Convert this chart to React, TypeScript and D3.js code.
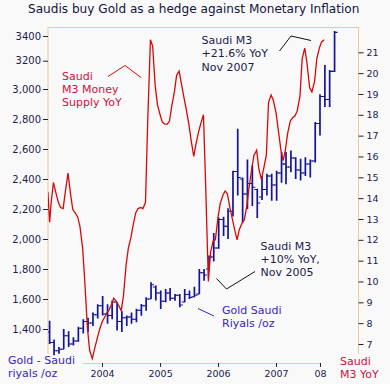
import React, { useEffect, useRef } from 'react';
import * as d3 from 'd3';

// Gold in Saudi riyals per oz, monthly bars Feb 2003 .. Jan 2008
const goldOpen = [
    1380, 1310, 1255, 1265, 1355, 1300, 1320, 1405, 1450, 1440, 1495,
    1555, 1500, 1490, 1580, 1450, 1475, 1480, 1465, 1525, 1555, 1600, 1680,
    1640, 1585, 1640, 1605, 1625, 1580, 1630, 1615, 1633, 1775, 1800, 1880,
    1940, 2130, 2085, 2185, 2450, 2400, 2300, 2370, 2330, 2280, 2330, 2420,
    2360, 2440, 2500, 2480, 2540, 2460, 2440, 2500, 2520, 2770, 2950, 2930,
    3125,
];
const goldHigh = [
    1455, 1330, 1280, 1400, 1385, 1345, 1415, 1465, 1475, 1510, 1565,
    1620, 1565, 1590, 1580, 1520, 1490, 1510, 1535, 1567, 1611, 1711, 1690,
    1656, 1667, 1673, 1633, 1633, 1667, 1656, 1682, 1800, 1800, 1890, 2040,
    2144, 2148, 2205, 2455, 2735, 2410, 2530, 2490, 2335, 2420, 2435, 2435,
    2455, 2580, 2580, 2590, 2545, 2535, 2545, 2530, 2780, 2965, 3170, 3135,
    3440,
];
const goldLow = [
    1300, 1225, 1235, 1265, 1280, 1290, 1315, 1370, 1380, 1420, 1470,
    1490, 1435, 1465, 1390, 1380, 1420, 1435, 1445, 1489, 1522, 1600, 1590,
    1533, 1578, 1589, 1589, 1545, 1578, 1600, 1611, 1633, 1722, 1790, 1850,
    1935, 2020, 2000, 2150, 2290, 2110, 2200, 2220, 2140, 2260, 2290, 2255,
    2255, 2375, 2365, 2445, 2400, 2390, 2420, 2410, 2510, 2690, 2880, 2880,
    3120,
];
const goldClose = [
    1310, 1255, 1265, 1355, 1300, 1320, 1405, 1450, 1440, 1495, 1555,
    1500, 1490, 1580, 1450, 1475, 1480, 1465, 1525, 1555, 1600, 1695, 1640,
    1585, 1640, 1605, 1625, 1560, 1630, 1610, 1625, 1775, 1760, 1880, 1940,
    2130, 2085, 2185, 2450, 2410, 2300, 2370, 2345, 2240, 2330, 2420, 2360,
    2440, 2500, 2480, 2540, 2460, 2440, 2500, 2520, 2770, 2950, 2930, 3125,
    3430,
];

// Saudi M3 money supply, % YoY
const m3Dates = [
    '2003-01-25', '2003-02-05', '2003-02-15', '2003-03-01', '2003-03-15', '2003-04-01', '2003-04-15',
    '2003-05-01', '2003-05-15', '2003-06-01', '2003-06-15', '2003-07-01', '2003-07-15', '2003-08-01',
    '2003-08-15', '2003-09-01', '2003-09-15', '2003-10-01', '2003-10-15', '2003-11-01', '2003-11-15',
    '2003-12-01', '2003-12-15', '2004-01-01', '2004-01-15', '2004-02-01', '2004-02-15', '2004-03-01',
    '2004-03-15', '2004-04-01', '2004-04-15', '2004-05-01', '2004-05-15', '2004-06-01', '2004-06-15',
    '2004-07-01', '2004-07-15', '2004-08-01', '2004-08-15', '2004-09-01', '2004-09-15', '2004-10-01',
    '2004-10-15', '2004-11-01', '2004-11-15', '2004-12-01', '2004-12-15', '2005-01-01', '2005-01-15',
    '2005-02-01', '2005-02-15', '2005-03-01', '2005-03-15', '2005-04-01', '2005-04-15', '2005-05-01',
    '2005-05-15', '2005-06-01', '2005-06-15', '2005-07-01', '2005-07-15', '2005-08-01', '2005-08-15',
    '2005-09-01', '2005-09-15', '2005-10-01', '2005-10-15', '2005-11-01', '2005-11-15', '2005-12-01',
    '2005-12-15', '2006-01-01', '2006-01-15', '2006-02-01', '2006-02-15', '2006-03-01', '2006-03-15',
    '2006-04-01', '2006-04-15', '2006-05-01', '2006-05-15', '2006-06-01', '2006-06-15', '2006-07-01',
    '2006-07-15', '2006-08-01', '2006-08-15', '2006-09-01', '2006-09-15', '2006-10-01', '2006-10-15',
    '2006-11-01', '2006-11-15', '2006-12-01', '2006-12-15', '2007-01-01', '2007-01-15', '2007-02-01',
    '2007-02-15', '2007-03-01', '2007-03-15', '2007-04-01', '2007-04-15', '2007-05-01', '2007-05-15',
    '2007-06-01', '2007-06-15', '2007-07-01', '2007-07-15', '2007-08-01', '2007-08-15', '2007-09-01',
    '2007-09-15', '2007-10-01', '2007-10-15', '2007-11-01',
];
const m3Values = [
    14.3, 12.85, 13.8, 14.75, 14.3, 13.8, 13.55,
    13.5, 14.3, 15.2, 14.3, 13.45, 13.3, 13.1,
    12.65, 11.6, 9.95, 7.8, 6.7, 6.3, 6.75,
    7.25, 7.65, 8.05, 8.25, 8.5, 8.65, 8.9,
    9.2, 9.05, 8.85, 8.6, 9.3, 10.8, 11.6,
    12.1, 12.7, 13.3, 13.5, 13.55, 13.5, 13.8,
    17.7, 21.6, 21.3, 19.4, 18.5, 18.0, 17.65,
    17.55, 17.55, 17.7, 18.4, 19.1, 19.9, 20.1,
    19.5, 18.8, 18.25, 17.55, 16.8, 16.0, 16.6,
    17.2, 17.6, 18.0, 14.6, 10.0, 11.4, 11.95,
    12.0, 13.1, 13.75, 14.15, 14.35, 14.2, 13.6,
    13.0, 12.5, 12.0, 12.5, 12.8, 12.95, 13.6,
    14.5, 15.4, 16.05, 16.3, 15.4, 14.9, 15.4,
    16.05, 18.6, 18.95, 18.7, 18.1, 17.3, 16.3,
    15.8, 16.3, 17.1, 17.7, 17.85, 17.95, 18.2,
    18.9, 20.7, 21.2, 20.5, 19.3, 19.1, 19.6,
    20.7, 21.2, 21.5, 21.6,
];

const goldTicks = [1400, 1600, 1800, 2000, 2200, 2400, 2600, 2800, 3000, 3200, 3400];
const goldTickLabels = ['1,400', '1,600', '1,800', '2,000', '2,200', '2,400', '2,600', '2,800', '3,000', '3200', '3400'];
const m3Ticks = [7, 8, 9, 10, 11, 12, 13, 14, 15, 16, 17, 18, 19, 20, 21];
const yearTicks = ['2004-01-01', '2005-01-01', '2006-01-01', '2007-01-01', '2007-10-05'];
const yearLabels = ['2004', '2005', '2006', '2007', '08'];

const W = 390;
const H = 384;
const font = '"DejaVu Sans", Verdana, sans-serif';
const frame = '#f5c796';
const ink = '#1c1c4c';
const red = '#d80808';
const blue = '#14149a';
const violet = '#3a24c8';
const crimson = '#d0103c';

const App: React.FC = () => {
    const svgRef = useRef<SVGSVGElement | null>(null);

    useEffect(() => {
        if (!svgRef.current) return;
        document.body.style.margin = '0';
        const svg = d3.select(svgRef.current);
        svg.selectAll('*').remove();

        const parse = d3.timeParse('%Y-%m-%d');
        const left = 48, right = 358.5, top = 27, bottom = 363;

        const x = d3.scaleTime()
            .domain([new Date(2004, 0, 1), new Date(2007, 0, 1)])
            .range([102, 276]);
        // the picture's top labels are squeezed, so the gold scale is piecewise
        const yGold = d3.scaleLinear()
            .domain([1200, 3000, 3200, 3400])
            .range([359, 89, 60.7, 36]);
        const yM3 = d3.scaleLinear().domain([7, 21]).range([344, 52.3]);

        svg.append('rect').attr('width', W).attr('height', H).attr('fill', '#f9f9f9');

        svg.append('text')
            .attr('x', 28).attr('y', 13)
            .attr('font-family', font).attr('font-size', 12.1)
            .attr('fill', '#141440')
            .text('Saudis buy Gold as a hedge against Monetary Inflation');

        // frame
        const fr = svg.append('g').attr('stroke', frame).attr('stroke-width', 1).attr('fill', 'none');
        fr.append('line').attr('x1', left).attr('x2', right).attr('y1', top + 0.5).attr('y2', top + 0.5);
        fr.append('line').attr('x1', left).attr('x2', left).attr('y1', top).attr('y2', 354);
        fr.append('line').attr('x1', right).attr('x2', right).attr('y1', top).attr('y2', 354);
        fr.append('line').attr('x1', 83).attr('x2', 320).attr('y1', bottom + 0.5).attr('y2', bottom + 0.5);

        // axes
        const styleAxis = (g: d3.Selection<SVGGElement, unknown, null, undefined>, size: number) => {
            g.select('.domain').remove();
            g.selectAll('.tick line').attr('stroke', '#202030');
            g.selectAll('.tick text')
                .attr('font-family', font).attr('font-size', size).attr('fill', ink);
        };

        svg.append('g')
            .attr('transform', `translate(${left},0)`)
            .call(d3.axisLeft(yGold).tickValues(goldTicks).tickSize(5).tickPadding(2)
                .tickFormat((_, i) => goldTickLabels[i]))
            .call(g => styleAxis(g, 10));

        svg.append('g')
            .attr('transform', `translate(${right},0)`)
            .call(d3.axisRight(yM3).tickValues(m3Ticks).tickSize(5).tickPadding(3)
                .tickFormat(d => String(d)))
            .call(g => styleAxis(g, 9.5));

        svg.append('g')
            .attr('transform', `translate(0,${bottom})`)
            .call(d3.axisBottom(x).tickValues(yearTicks.map(d => parse(d) as Date)).tickSize(4).tickPadding(3)
                .tickFormat((_, i) => yearLabels[i]))
            .call(g => styleAxis(g, 9.5));

        svg.append('clipPath').attr('id', 'plot')
            .append('rect').attr('x', left).attr('y', top).attr('width', right - left).attr('height', bottom - top);

        const plot = svg.append('g').attr('clip-path', 'url(#plot)');

        // gold monthly bars
        const months = d3.timeMonth.range(new Date(2003, 1, 1), new Date(2008, 1, 1));
        const bars = months.map((m, i) => ({
            date: d3.timeDay.offset(m, 4),
            o: goldOpen[i], h: goldHigh[i], l: goldLow[i], c: goldClose[i],
        }));
        const bar = plot.append('g').attr('stroke', blue).selectAll('g').data(bars).enter().append('g');
        bar.append('line')
            .attr('x1', d => x(d.date)).attr('x2', d => x(d.date))
            .attr('y1', d => yGold(d.h)).attr('y2', d => yGold(d.l))
            .attr('stroke-width', 1.7);
        bar.append('line')
            .attr('x1', d => x(d.date) - 3).attr('x2', d => x(d.date))
            .attr('y1', d => yGold(d.o)).attr('y2', d => yGold(d.o))
            .attr('stroke-width', 1.2);
        bar.append('line')
            .attr('x1', d => x(d.date)).attr('x2', d => x(d.date) + 3)
            .attr('y1', d => yGold(d.c)).attr('y2', d => yGold(d.c))
            .attr('stroke-width', 1.2);

        // M3 line
        const m3 = m3Dates.map((d, i) => ({ date: parse(d) as Date, value: m3Values[i] }));
        const line = d3.line<{ date: Date; value: number }>()
            .x(d => x(d.date))
            .y(d => yM3(d.value));
        plot.append('path')
            .datum(m3)
            .attr('fill', 'none')
            .attr('stroke', red)
            .attr('stroke-width', 1.3)
            .attr('d', line);

        // labels and leader lines
        const label = (lines: string[], lx: number, baselines: number[], color: string) => {
            const t = svg.append('text')
                .attr('font-family', font).attr('font-size', 11).attr('fill', color);
            lines.forEach((s, i) => t.append('tspan').attr('x', lx).attr('y', baselines[i]).text(s));
        };
        const leader = (pts: [number, number][], color: string) => {
            svg.append('path')
                .attr('d', d3.line()(pts))
                .attr('fill', 'none').attr('stroke', color).attr('stroke-width', 1);
        };

        label(['Saudi', 'M3 Money', 'Supply YoY'], 62, [80, 93, 106], crimson);
        leader([[108, 76.5], [125, 65.5], [141, 77.5]], red);

        label(['Saudi M3', '+21.6% YoY', 'Nov 2007'], 201.5, [44, 57, 70.5], ink);
        leader([[279.5, 51], [291, 36], [311, 40.5]], '#111');

        label(['Saudi M3', '+10% YoY,', 'Nov 2005'], 260.5, [250, 263, 276], ink);
        leader([[216.5, 278.5], [226.5, 289], [255, 271.5]], '#111');

        label(['Gold Saudi', 'Riyals /oz'], 222, [314, 327], violet);
        leader([[198, 308.5], [214, 316]], violet);

        label(['Gold - Saudi', 'riyals /oz'], 8, [364, 377], violet);
        label(['Saudi', 'M3 YoY'], 340, [364.5, 377.5], crimson);
    }, []);

    return <svg ref={svgRef} width={W} height={H} style={{ display: 'block' }}></svg>;
};

export default App;
